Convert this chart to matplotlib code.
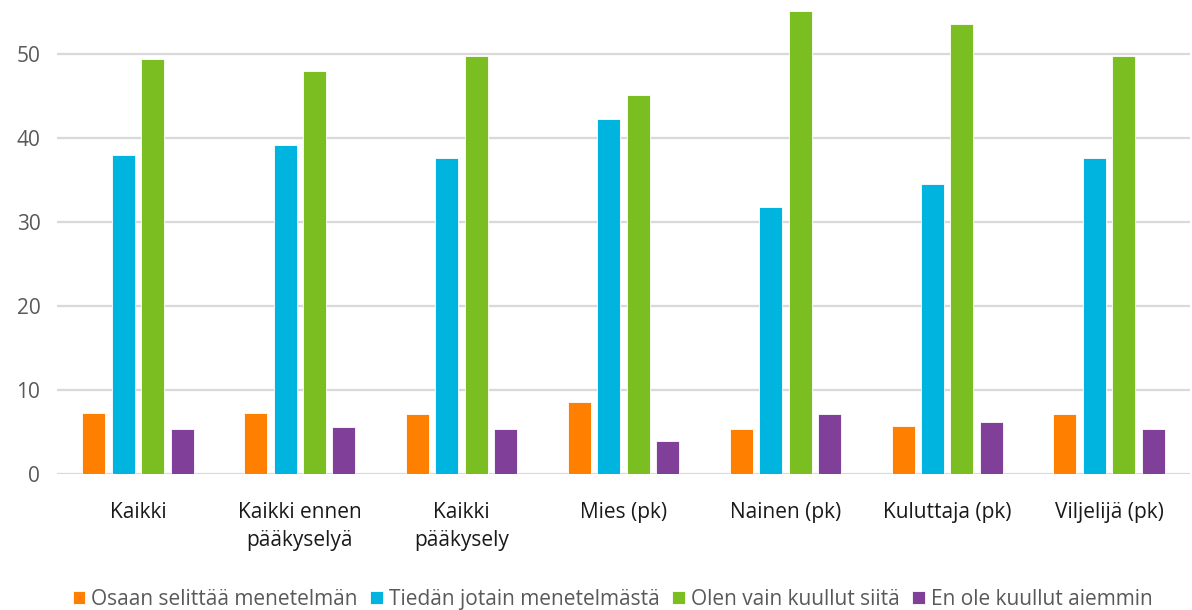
import matplotlib
matplotlib.use("Agg")
import matplotlib.pyplot as plt
import numpy as np

categories = ["Kaikki", "Kaikki ennen\npääkyselyä", "Kaikki\npääkysely", "Mies (pk)",
              "Nainen (pk)", "Kuluttaja (pk)", "Viljelijä (pk)"]
series_names = ["Osaan selittää menetelmän", "Tiedän jotain menetelmästä",
                "Olen vain kuullut siitä", "En ole kuullut aiemmin"]
osaan = [7.3, 7.3, 7.1, 8.6, 5.3, 5.7, 7.1]
tiedan = [38.0, 39.2, 37.6, 42.2, 31.8, 34.5, 37.6]
olen = [49.4, 47.9, 49.7, 45.1, 55.1, 53.6, 49.7]
en_ole = [5.4, 5.6, 5.3, 3.9, 7.1, 6.2, 5.3]
yticks = [0, 10, 20, 30, 40, 50]

colors = ["#FF8000", "#00B4E0", "#7BBE21", "#803F98"]
plt.rcParams['font.family'] = ['Open Sans', 'DejaVu Sans']

fig = plt.figure(figsize=(11.92, 6.10), dpi=100)
ax = fig.add_axes([57/1192, 1 - 474/610, (1190-57)/1192, 474/610])

x = np.arange(len(categories))
step = 0.182
width = 0.142
data = [osaan, tiedan, olen, en_ole]
for i, (vals, c, name) in enumerate(zip(data, colors, series_names)):
    ax.bar(x + (i - 1.5) * step, vals, width=width, color=c, label=name,
           edgecolor="white", linewidth=0.6, zorder=3)

ax.set_xlim(-0.5, len(categories) - 0.5)
ax.set_ylim(0, 56.4)
ax.set_yticks(yticks)
ax.yaxis.grid(True, color="#D9D9D9", linewidth=1.6, zorder=0)
ax.set_axisbelow(True)
for s in ax.spines.values():
    s.set_visible(False)
ax.tick_params(axis="both", length=0)
ax.tick_params(axis="y", labelsize=15, labelcolor="#595959", pad=12)
ax.set_xticks(x)
ax.set_xticklabels(categories, fontsize=15, color="#1a1a1a", linespacing=1.45)
ax.tick_params(axis="x", pad=20)

leg = fig.legend(loc="lower center", bbox_to_anchor=(0.514, -0.03), ncol=4, frameon=False,
                 fontsize=15, handlelength=0.6, handleheight=0.6, handletextpad=0.3,
                 columnspacing=0.6, labelcolor="#595959")

fig.savefig("out.png", dpi=100)
